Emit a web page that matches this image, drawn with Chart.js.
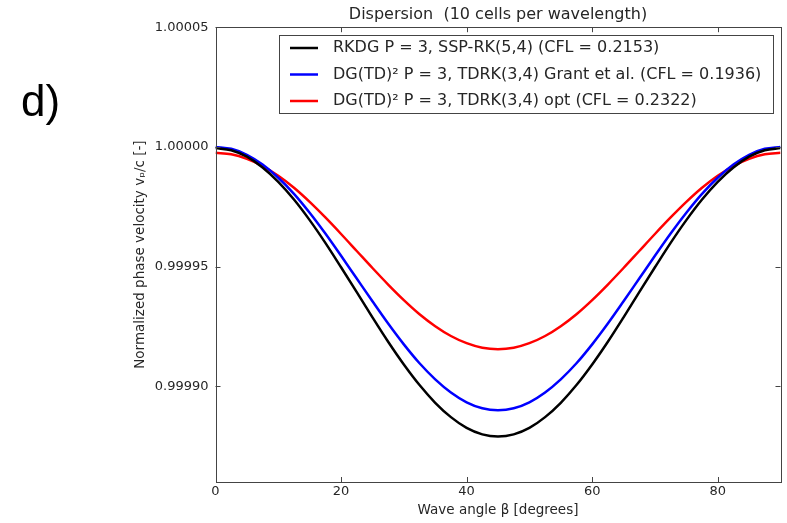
<!DOCTYPE html>
<html>
<head>
<meta charset="utf-8">
<script src="https://cdn.jsdelivr.net/npm/chart.js@4"></script>
<style>
  body { margin: 0; background: #fff; }
  #wrap { position: relative; width: 787px; height: 523px; }
  #panel { position: absolute; left: 21px; top: 76px; font: 44px "Liberation Sans", Arial, sans-serif; color: #000; }
</style>
</head>
<body>
<div id="wrap">
  <canvas id="grafico"></canvas>
  <div id="panel">d)</div>
</div>
<script>
// --- DATOS ---
const angulos = [0, 2.5, 5, 7.5, 10, 12.5, 15, 17.5, 20, 22.5, 25, 27.5, 30, 32.5, 35, 37.5, 40, 42.5, 45,
                 47.5, 50, 52.5, 55, 57.5, 60, 62.5, 65, 67.5, 70, 72.5, 75, 77.5, 80, 82.5, 85, 87.5, 90];
const rkdg  = [0.9999995, 0.9999986, 0.9999959, 0.9999914, 0.9999854, 0.9999780, 0.9999694, 0.9999599, 0.9999497, 0.9999393,
               0.9999288, 0.9999186, 0.9999091, 0.9999005, 0.9998931, 0.9998871, 0.9998826, 0.9998799, 0.9998790,
               0.9998799, 0.9998826, 0.9998871, 0.9998931, 0.9999005, 0.9999091, 0.9999186, 0.9999288, 0.9999393,
               0.9999497, 0.9999599, 0.9999694, 0.9999780, 0.9999854, 0.9999914, 0.9999959, 0.9999986, 0.9999995];
const grant = [1.0000000, 0.9999992, 0.9999967, 0.9999926, 0.9999871, 0.9999804, 0.9999725, 0.9999638, 0.9999545, 0.9999450,
               0.9999355, 0.9999262, 0.9999175, 0.9999096, 0.9999029, 0.9998974, 0.9998933, 0.9998908, 0.9998900,
               0.9998908, 0.9998933, 0.9998974, 0.9999029, 0.9999096, 0.9999175, 0.9999262, 0.9999355, 0.9999450,
               0.9999545, 0.9999638, 0.9999725, 0.9999804, 0.9999871, 0.9999926, 0.9999967, 0.9999992, 1.0000000];
const opt   = [0.9999975, 0.9999969, 0.9999950, 0.9999920, 0.9999879, 0.9999829, 0.9999770, 0.9999705, 0.9999636, 0.9999565,
               0.9999494, 0.9999425, 0.9999360, 0.9999301, 0.9999251, 0.9999210, 0.9999180, 0.9999161, 0.9999155,
               0.9999161, 0.9999180, 0.9999210, 0.9999251, 0.9999301, 0.9999360, 0.9999425, 0.9999494, 0.9999565,
               0.9999636, 0.9999705, 0.9999770, 0.9999829, 0.9999879, 0.9999920, 0.9999950, 0.9999969, 0.9999975];
const etiquetas = ['RKDG P = 3, SSP-RK(5,4) (CFL = 0.2153)',
                   'DG(TD)\u00B2 P = 3, TDRK(3,4) Grant et al. (CFL = 0.1936)',
                   'DG(TD)\u00B2 P = 3, TDRK(3,4) opt (CFL = 0.2322)'];
const colores = ['#000000', '#0000ff', '#ff0000'];
const xTicks = [0, 20, 40, 60, 80];
const yTicks = [0.99990, 0.99995, 1.00000, 1.00005];

const FUENTE = '"DejaVu Sans", sans-serif';
const TEXTO = '#262626';

const serie = (vals) => angulos.map((a, i) => ({ x: a, y: vals[i] }));

// marco + ticks hacia adentro (estilo matplotlib)
const marcoPlugin = {
    id: 'marco',
    afterDraw(chart) {
        const { ctx, chartArea: a, scales } = chart;
        ctx.save();
        ctx.strokeStyle = '#444';
        ctx.lineWidth = 1;
        ctx.beginPath();
        xTicks.forEach(v => {
            const px = Math.round(scales.x.getPixelForValue(v)) + 0.5;
            ctx.moveTo(px, a.bottom); ctx.lineTo(px, a.bottom - 5);
            ctx.moveTo(px, a.top); ctx.lineTo(px, a.top + 5);
        });
        yTicks.forEach(v => {
            const py = Math.round(scales.y.getPixelForValue(v)) + 0.5;
            ctx.moveTo(a.left, py); ctx.lineTo(a.left + 5, py);
            ctx.moveTo(a.right, py); ctx.lineTo(a.right - 5, py);
        });
        ctx.stroke();
        ctx.strokeRect(Math.round(a.left) + 0.5, Math.round(a.top) + 0.5,
                       Math.round(a.right - a.left), Math.round(a.bottom - a.top));
        ctx.restore();
    }
};

// leyenda dentro del área de trazado
const leyendaPlugin = {
    id: 'leyendaInterna',
    afterDraw(chart) {
        const { ctx } = chart;
        const x0 = 279.5, y0 = 35.5, w = 494, h = 78;
        ctx.save();
        ctx.fillStyle = '#fff';
        ctx.fillRect(x0, y0, w, h);
        ctx.strokeStyle = '#444';
        ctx.lineWidth = 1;
        ctx.strokeRect(x0, y0, w, h);
        ctx.font = '16px ' + FUENTE;
        ctx.textBaseline = 'middle';
        chart.data.datasets.forEach((ds, i) => {
            const y = 48 + i * 26.5;
            ctx.strokeStyle = ds.borderColor;
            ctx.lineWidth = 2.5;
            ctx.beginPath();
            ctx.moveTo(290, y); ctx.lineTo(318, y);
            ctx.stroke();
            ctx.fillStyle = TEXTO;
            ctx.fillText(ds.label, 333, y);
        });
        ctx.restore();
    }
};

new Chart(document.getElementById('grafico'), {
    type: 'line',
    data: {
        datasets: [rkdg, grant, opt].map((vals, i) => ({
            label: etiquetas[i],
            data: serie(vals),
            borderColor: colores[i],
            backgroundColor: colores[i],
            borderWidth: 2.5,
            pointRadius: 0,
            cubicInterpolationMode: 'monotone',
            fill: false
        }))
    },
    options: {
        responsive: true,
        maintainAspectRatio: false,
        animation: false,
        layout: { padding: { left: 130, right: 6.5, top: 0, bottom: 0 } },
        plugins: {
            legend: { display: false },
            tooltip: { enabled: false },
            title: {
                display: true,
                fullSize: false,
                text: 'Dispersion  (10 cells per wavelength)',
                color: TEXTO,
                font: { family: FUENTE, size: 16, weight: 'normal' },
                padding: { top: 5, bottom: 3 }
            }
        },
        scales: {
            x: {
                type: 'linear',
                min: 0, max: 90,
                grid: { display: false, drawTicks: false },
                border: { display: false },
                afterBuildTicks: s => { s.ticks = xTicks.map(v => ({ value: v })); },
                afterFit: s => { s.height = 41; },
                ticks: { color: TEXTO, padding: 2, font: { family: FUENTE, size: 13 }, maxRotation: 0 },
                title: {
                    display: true,
                    text: 'Wave angle \u03B2 [degrees]',
                    color: TEXTO,
                    font: { family: FUENTE, size: 13.5 },
                    padding: { top: 0, bottom: 4 }
                }
            },
            y: {
                type: 'linear',
                min: 0.99986, max: 1.00005,
                grid: { display: false, drawTicks: false },
                border: { display: false },
                afterBuildTicks: s => { s.ticks = yTicks.map(v => ({ value: v })); },
                afterFit: s => { s.width = 85.5; },
                ticks: {
                    color: TEXTO, padding: 7,
                    font: { family: FUENTE, size: 13 },
                    callback: v => Number(v).toFixed(5)
                },
                title: {
                    display: true,
                    text: 'Normalized phase velocity v\u209A/c [-]',
                    color: TEXTO,
                    font: { family: FUENTE, size: 13.5 },
                    padding: { top: 2, bottom: 0 }
                }
            }
        }
    },
    plugins: [marcoPlugin, leyendaPlugin]
});
</script>
</body>
</html>
